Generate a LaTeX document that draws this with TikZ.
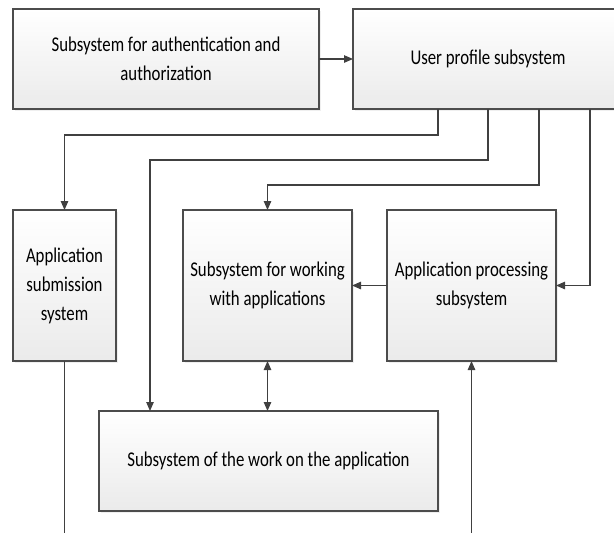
\documentclass[tikz,border=0pt]{standalone}
\usepackage{fontspec}
\setmainfont{Carlito}[FakeStretch=0.8]
\usetikzlibrary{arrows.meta,shadows}
\begin{document}
\begin{tikzpicture}[x=1pt,y=-1pt,
  box/.style={draw=black!70, line width=1.2pt, top color=white, bottom color=black!8,
    inner sep=0pt, outer sep=0pt, align=center,
    font=\fontsize{21}{29}\selectfont, text=black,
    drop shadow={shadow xshift=1.5pt, shadow yshift=-1.5pt, fill=black!12, opacity=0.5}},
  tipA/.tip={Triangle[length=9pt,width=7.5pt]},
  conn/.style={draw=black!75, line width=1.1pt, -tipA},
  plain/.style={draw=black!75, line width=1.1pt},
]
\useasboundingbox (0,0) rectangle (614,533);

\node[box, minimum width=306pt, minimum height=100pt] (A) at (166,59)
  {Subsystem for authentication and\\authorization};
\node[box, minimum width=270pt, minimum height=100pt] (B) at (488,59)
  {User profile subsystem};
\node[box, minimum width=103pt, minimum height=151pt] (C) at (64.5,285.5)
  {Application\\submission\\system};
\node[box, minimum width=169pt, minimum height=151pt] (D) at (267.5,285.5)
  {Subsystem for working\\with applications};
\node[box, minimum width=169pt, minimum height=151pt] (E) at (471.5,285.5)
  {Application processing\\subsystem};
\node[box, minimum width=339pt, minimum height=100pt] (F) at (268.5,461)
  {Subsystem of the work on the application};

\coordinate (cbot) at (64.5,533);
\coordinate (ebot) at (471.5,533);

\draw[conn] (A.east) -- (B.west);
\draw[conn] ([xshift=-50pt]B.south) -- ++(0,26) -| (C.north);
\draw[conn] (B.south) -- ++(0,51) -| ([xshift=-118.5pt]F.north);
\draw[conn] ([xshift=51pt]B.south) -- ++(0,76) -| (D.north);
\draw[conn] ([xshift=102pt]B.south) |- (E.east);
\draw[conn] (E.west) -- (D.east);
\draw[conn, tipA-tipA] (D.south) -- (D.south |- F.north);
\draw[plain] (C.south) -- (cbot);
\draw[conn] (ebot) -- (E.south);
\end{tikzpicture}
\end{document}
